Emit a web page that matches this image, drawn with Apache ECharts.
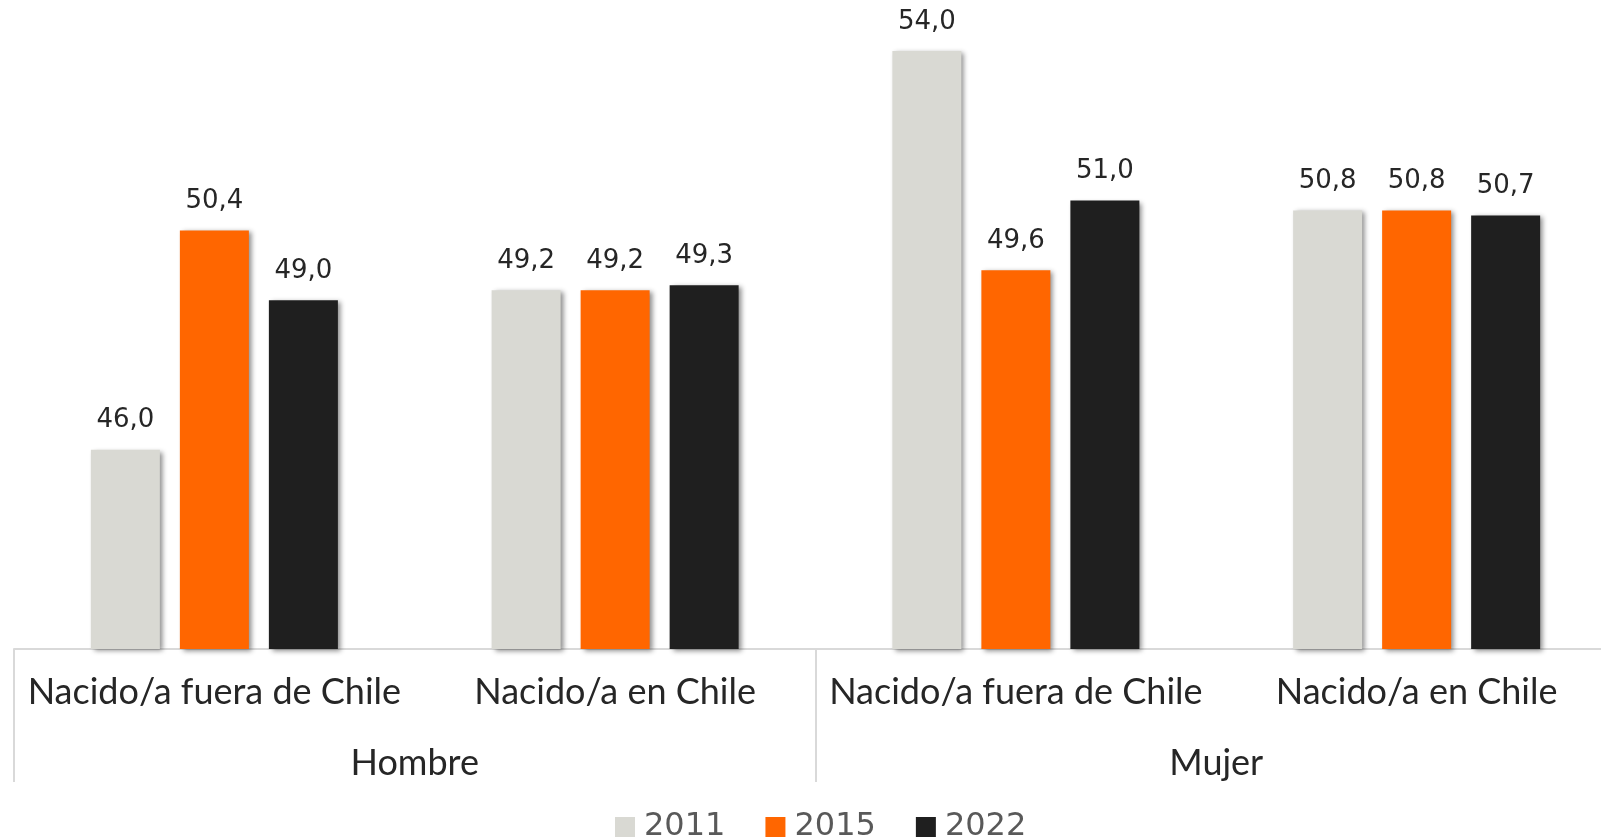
<!DOCTYPE html>
<html>
<head>
<meta charset="utf-8">
<script src="https://cdn.jsdelivr.net/npm/echarts@6/dist/echarts.min.js"></script>
<style>
  html, body { margin: 0; padding: 0; background: #fff; overflow: hidden; }
  /* el eje horizontal sigue más allá del borde derecho, como en el original */
  #chart { width: 1617px; height: 840px; }
</style>
</head>
<body>
<div id="chart"></div>
<script>
const categories = ['Nacido/a fuera de Chile', 'Nacido/a en Chile', 'Nacido/a fuera de Chile', 'Nacido/a en Chile'];
const groups = ['Hombre', 'Mujer'];
const years = ['2011', '2015', '2022'];
const values2011 = [46.0, 49.2, 54.0, 50.8];
const values2015 = [50.4, 49.2, 49.6, 50.8];
const values2022 = [49.0, 49.3, 51.0, 50.7];
const colors = ['#D9D9D3', '#FF6600', '#1F1F1F'];

const font = 'Lato, "Open Sans", sans-serif';
const numFont = '"DejaVu Sans", sans-serif';
const chart = echarts.init(document.getElementById('chart'));

// formato decimal con coma
const fmt = (p) => p.value.toFixed(1).replace('.', ',');

const makeSeries = (name, data, color) => ({
  name: name,
  type: 'bar',
  xAxisIndex: 0,
  data: data,
  barWidth: 69,
  barGap: '29%',
  itemStyle: {
    color: color,
    shadowColor: 'rgba(0,0,0,0.45)',
    shadowBlur: 5,
    shadowOffsetX: 3,
    shadowOffsetY: 2
  },
  label: {
    show: true,
    position: 'top',
    distance: 16,
    formatter: fmt,
    fontFamily: numFont,
    fontSize: 26,
    color: '#262626'
  },
  animation: false
});

chart.setOption({
  animation: false,
  grid: { left: 14, right: 0, top: 51, bottom: 191 },
  legend: {
    top: 811,
    left: 615,
    padding: 0,
    itemWidth: 20,
    itemHeight: 20,
    itemGap: 40,
    icon: 'rect',
    textStyle: { fontFamily: numFont, fontSize: 32, color: '#595959', padding: [0, 0, 0, 4] },
    data: years
  },
  xAxis: [
    {
      type: 'category',
      data: categories,
      axisLine: { show: true, lineStyle: { color: '#D9D9D9', width: 2 } },
      axisTick: { show: false },
      axisLabel: { interval: 0, margin: 25, fontFamily: font, fontSize: 36, color: '#262626' }
    },
    {
      type: 'category',
      position: 'bottom',
      data: groups,
      axisLine: { show: false },
      axisTick: { show: true, length: 133, lineStyle: { color: '#D9D9D9', width: 2 } },
      axisLabel: { interval: 0, margin: 96, fontFamily: font, fontSize: 36, color: '#262626' }
    }
  ],
  yAxis: {
    type: 'value',
    min: 42,
    max: 54,
    show: false,
    splitLine: { show: false }
  },
  series: [
    makeSeries(years[0], values2011, colors[0]),
    makeSeries(years[1], values2015, colors[1]),
    makeSeries(years[2], values2022, colors[2])
  ]
});
</script>
</body>
</html>
